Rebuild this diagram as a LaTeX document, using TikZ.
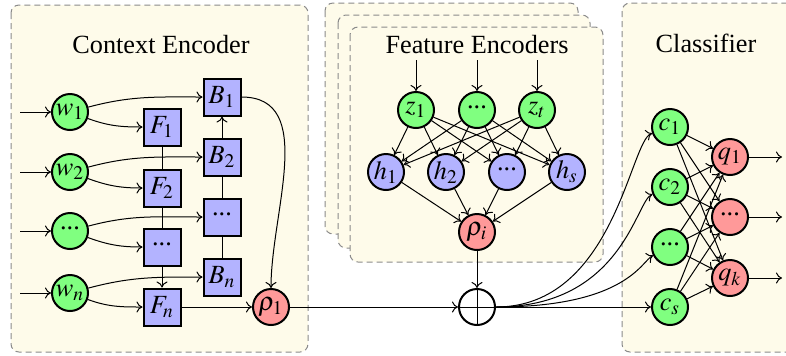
\documentclass[tikz,border=0pt]{standalone}
\usepackage{mathptmx}
\usepackage{fontspec}
\setmainfont{Liberation Serif}
\usetikzlibrary{arrows.meta,positioning,backgrounds}
\definecolor{panelfill}{HTML}{FEFBEA}
\definecolor{panelline}{HTML}{8A8A8A}
\definecolor{ingreen}{HTML}{80FF80}
\definecolor{hidblue}{HTML}{B3B3FF}
\definecolor{outred}{HTML}{FF9999}
\newcommand{\ndots}{\raisebox{0.5ex}{...}}
\tikzset{
  >={To[length=2.4pt,width=4.4pt]},
  % rutor
  panel/.style={draw=panelline,fill=panelfill,line width=0.4pt,
                dash pattern=on 2.4pt off 1.6pt,rounded corners=3.2pt},
  ptitle/.style={inner sep=0pt},
  % noder
  vin/.style={circle,draw,fill=ingreen,line width=0.8pt,inner sep=0pt,
              minimum size=14.4pt},
  vhid/.style={vin,fill=hidblue},
  vout/.style={vin,fill=outred},
  cell/.style={rectangle,draw,fill=hidblue,line width=0.8pt,inner sep=0pt,
               minimum size=14.8pt},
  osum/.style={circle,draw,line width=0.8pt,inner sep=0pt,minimum size=14.4pt,
               path picture={\draw[line width=0.4pt]
                 (path picture bounding box.north) -- (path picture bounding box.south)
                 (path picture bounding box.west) -- (path picture bounding box.east);}},
  % kanter
  ed/.style={->,line width=0.4pt},
  ln/.style={line width=0.4pt},
}

\begin{document}
\begin{tikzpicture}[x=0.4pt,y=-0.4pt,every node/.append style={font=\fontsize{10.5}{12}\selectfont}]
  \path[use as bounding box] (0,0) rectangle (786,355);
  \clip (0,0) rectangle (786,355);
  % paneler
  \path[panel] (11,5) rectangle (308,352);
  \path[panel] (325,3) rectangle (578,234);
  \path[panel] (338,15) rectangle (590,248);
  \path[panel] (350,27) rectangle (603,262);
  \path[panel] (622,3) rectangle (820,352);
  \node[ptitle] (tctx) at (161,45) {Context Encoder};
  \node[ptitle] (tfeat) at (477,45) {Feature Encoders};
  \node[ptitle] (tcls) at (706,43) {Classifier};
  % context encoder
  \node[vin] (w1) at (70,112) {$w_1$};
  \node[vin] (w2) at (70,172) {$w_2$};
  \node[vin] (wd) at (70,231) {\ndots};
  \node[vin] (wn) at (70,293) {$w_n$};
  \node[cell] (F1) at (162,127) {$F_1$};
  \node[cell] (F2) at (162,188) {$F_2$};
  \node[cell] (Fd) at (162,247) {\ndots};
  \node[cell] (Fn) at (162,307) {$F_n$};
  \node[cell] (B1) at (222,97) {$B_1$};
  \node[cell] (B2) at (222,157) {$B_2$};
  \node[cell] (Bd) at (222,217) {\ndots};
  \node[cell] (Bn) at (222,277) {$B_n$};
  \node[vout] (rho1) at (271,307) {$\rho_1$};
  \coordinate (iw1) at (20,112);
  \coordinate (iw2) at (20,172);
  \coordinate (iwd) at (20,231);
  \coordinate (iwn) at (20,293);
  \foreach \w in {w1,w2,wd,wn} \draw[ed] (i\w) -- (\w);
  \foreach \w/\b/\f in {w1/B1/F1,w2/B2/F2,wd/Bd/Fd,wn/Bn/Fn} {
    \draw[ed] (\w) to[out=15,in=180] (\b);
    \draw[ed] (\w) to[out=-20,in=180] (\f);
  }
  \draw[ln] (F1) -- (F2) -- (Fd);
  \draw[ed] (Fd) -- (Fn);
  \draw[ln] (Bn) -- (Bd) -- (B2);
  \draw[ed] (B2) -- (B1);
  \draw[ed] (B1.east) to[out=0,in=90] (rho1.north);
  \draw[ed] (Fn) -- (rho1);
  % feature encoders
  \node[vin] (z1) at (416,110) {$z_1$};
  \node[vin] (zd) at (477,110) {\ndots};
  \node[vin] (zt) at (537,110) {$z_t$};
  \node[vhid] (h1) at (386,172) {$h_1$};
  \node[vhid] (h2) at (446,172) {$h_2$};
  \node[vhid] (hd) at (507,172) {\ndots};
  \node[vhid] (hs) at (567,172) {$h_s$};
  \node[vout] (rhoi) at (477,232) {$\rho_i$};
  \coordinate (iz1) at (416,60);
  \coordinate (izd) at (477,60);
  \coordinate (izt) at (537,60);
  \foreach \z in {z1,zd,zt} {
    \draw[ed] (i\z) -- (\z);
    \foreach \h in {h1,h2,hd,hs} \draw[ed] (\z) -- (\h);
  }
  \foreach \h in {h1,h2,hd,hs} \draw[ed] (\h) -- (rhoi);
  % summa
  \node[osum] (sum) at (477,307) {};
  \draw[ed] (rho1) -- (sum);
  \draw[ed] (rhoi) -- (sum);
  % classifier
  \node[vin] (c1) at (670,127) {$c_1$};
  \node[vin] (c2) at (670,187) {$c_2$};
  \node[vin] (cd) at (670,247) {\ndots};
  \node[vin] (cs) at (670,307) {$c_s$};
  \node[vout] (q1) at (730,157) {$q_1$};
  \node[vout] (qd) at (730,217) {\ndots};
  \node[vout] (qk) at (730,278) {$q_k$};
  \coordinate (oq1) at (782,157);
  \coordinate (oqd) at (782,217);
  \coordinate (oqk) at (782,278);
  \draw[ed] (sum.east) .. controls +(118,0) and +(-40,14) .. (c1);
  \draw[ed] (sum.east) .. controls +(126,0) and +(-34,14) .. (c2);
  \draw[ed] (sum.east) .. controls +(130,0) and +(-28,14) .. (cd);
  \draw[ed] (sum) -- (cs);
  \foreach \c in {c1,c2,cd,cs}
    \foreach \q in {q1,qd,qk} \draw[ed] (\c) -- (\q);
  \foreach \q in {q1,qd,qk} \draw[ed] (\q) -- (o\q);
\end{tikzpicture}
\end{document}
